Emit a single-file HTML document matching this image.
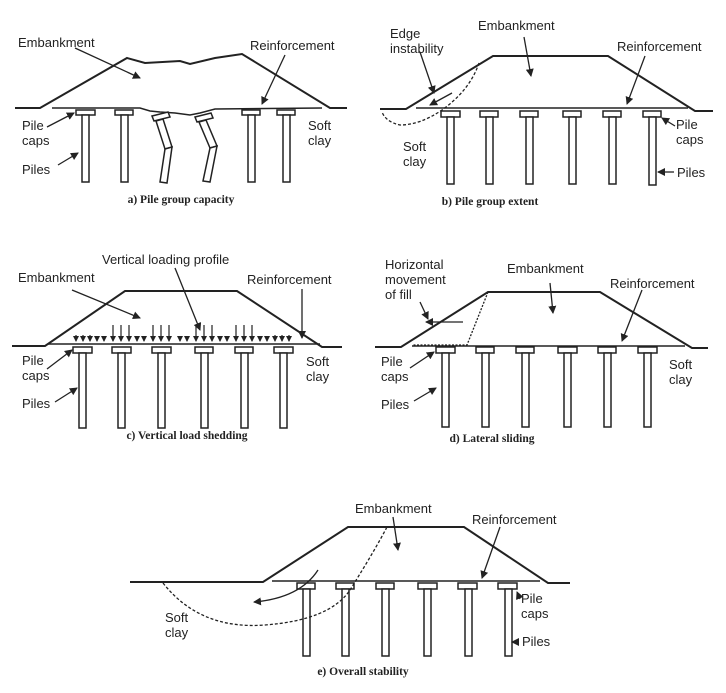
<!DOCTYPE html>
<html><head><meta charset="utf-8"><style>
body{margin:0;background:#fff;}
svg text{font-family:"Liberation Sans",sans-serif;font-size:13px;fill:#222;}
svg text.c{font-family:"Liberation Serif",serif;font-size:11.5px;font-weight:bold;}
</style></head><body>
<svg width="726" height="688" viewBox="0 0 726 688" xmlns="http://www.w3.org/2000/svg">
<defs>
<marker id="ah" markerWidth="8" markerHeight="8" refX="7" refY="4" orient="auto" markerUnits="userSpaceOnUse"><path d="M0,0 L8,4 L0,8 z" fill="#222"/></marker>
<marker id="sa" markerWidth="6" markerHeight="6" refX="5" refY="3" orient="auto" markerUnits="userSpaceOnUse"><path d="M0,0 L6,3 L0,6 z" fill="#222"/></marker>
</defs>
<g stroke="#222" fill="none" stroke-width="2">
<polyline points="15,108 40,108 127,58 145,63 180,61 190,64 215,58 242,54 330,108 347,108"/>
<polyline stroke-width="1.5" points="52,108 140,108 150,111 160,112 175,113 190,115 200,113 215,109 322,108"/>
</g>
<g stroke="#222" fill="#fff" stroke-width="1.5">
<rect x="76" y="110" width="19" height="5"/><rect x="82" y="115" width="7" height="67"/>
<rect x="115" y="110" width="18" height="5"/><rect x="121" y="115" width="7" height="67"/>
<rect x="242" y="110" width="18" height="5"/><rect x="248" y="115" width="7" height="67"/>
<rect x="277" y="110" width="18" height="5"/><rect x="283" y="115" width="7" height="67"/>
<polygon points="152,116 168,112 170,117 154,121"/>
<polygon points="156,121 163,119 172,147 165,149"/>
<polygon points="165,149 172,147 167,183 160,182"/>
<polygon points="195,117 211,113 213,118 197,122"/>
<polygon points="199,122 206,120 217,146 210,148"/>
<polygon points="210,148 217,146 210,182 203,181"/>
</g>
<g stroke="#222" stroke-width="1.3" fill="none">
<line x1="75" y1="48" x2="140" y2="78" marker-end="url(#ah)"/>
<line x1="285" y1="55" x2="262" y2="104" marker-end="url(#ah)"/>
<line x1="47" y1="127" x2="74" y2="113" marker-end="url(#ah)"/>
<line x1="58" y1="165" x2="78" y2="153" marker-end="url(#ah)"/>
</g>
<text x="18" y="47">Embankment</text><text x="250" y="50">Reinforcement</text>
<text x="22" y="130">Pile</text><text x="22" y="145">caps</text><text x="22" y="174">Piles</text>
<text x="308" y="130">Soft</text><text x="308" y="145">clay</text>
<text class="c" x="181" y="203" text-anchor="middle">a) Pile group capacity</text>

<g stroke="#222" fill="none" stroke-width="2">
<polyline points="380,109 406,109 493,56 608,56 695,111 713,111"/>
<line stroke-width="1.5" x1="416" y1="108" x2="688" y2="108"/>
</g>
<g stroke="#222" fill="#fff" stroke-width="1.5">
<rect x="441" y="111" width="19" height="6"/><rect x="447" y="117" width="7" height="67"/>
<rect x="480" y="111" width="18" height="6"/><rect x="486" y="117" width="7" height="67"/>
<rect x="520" y="111" width="18" height="6"/><rect x="526" y="117" width="7" height="67"/>
<rect x="563" y="111" width="18" height="6"/><rect x="569" y="117" width="7" height="67"/>
<rect x="603" y="111" width="18" height="6"/><rect x="609" y="117" width="7" height="67"/>
<rect x="643" y="111" width="18" height="6"/><rect x="649" y="117" width="7" height="68"/>
</g>
<g stroke="#222" stroke-width="1.3" fill="none">
<path d="M479,63 Q470,90 442,110 Q420,125 400,125 Q386,122 382,112" stroke-dasharray="3,2"/>
<line x1="420" y1="52" x2="434" y2="93" marker-end="url(#ah)"/>
<line x1="452" y1="93" x2="430" y2="105" marker-end="url(#ah)"/>
<line x1="524" y1="37" x2="531" y2="76" marker-end="url(#ah)"/>
<line x1="645" y1="56" x2="627" y2="104" marker-end="url(#ah)"/>
<line x1="675" y1="126" x2="662" y2="118" marker-end="url(#ah)"/>
<line x1="674" y1="172" x2="658" y2="172" marker-end="url(#ah)"/>
</g>
<text x="390" y="38">Edge</text><text x="390" y="53">instability</text>
<text x="478" y="30">Embankment</text><text x="617" y="51">Reinforcement</text>
<text x="403" y="151">Soft</text><text x="403" y="166">clay</text>
<text x="676" y="129">Pile</text><text x="676" y="144">caps</text><text x="677" y="177">Piles</text>
<text class="c" x="490" y="205" text-anchor="middle">b) Pile group extent</text>

<g stroke="#222" fill="none" stroke-width="2">
<polyline points="12,346 45,346 125,291 237,291 322,347 342,347"/>
<line stroke-width="1.5" x1="48" y1="344" x2="320" y2="344"/>
</g>
<g stroke="#222" fill="#fff" stroke-width="1.5">
<rect x="73" y="347" width="19" height="6"/><rect x="79" y="353" width="7" height="75"/>
<rect x="112" y="347" width="19" height="6"/><rect x="118" y="353" width="7" height="75"/>
<rect x="152" y="347" width="19" height="6"/><rect x="158" y="353" width="7" height="75"/>
<rect x="195" y="347" width="18" height="6"/><rect x="201" y="353" width="7" height="75"/>
<rect x="235" y="347" width="18" height="6"/><rect x="241" y="353" width="7" height="75"/>
<rect x="274" y="347" width="19" height="6"/><rect x="280" y="353" width="7" height="75"/>
</g>
<g stroke="#222" stroke-width="1.2">
<line x1="76" y1="335" x2="76" y2="341" marker-end="url(#sa)"/><line x1="83" y1="335" x2="83" y2="341" marker-end="url(#sa)"/><line x1="90" y1="335" x2="90" y2="341" marker-end="url(#sa)"/><line x1="97" y1="337" x2="97" y2="341" marker-end="url(#sa)"/><line x1="104" y1="337" x2="104" y2="341" marker-end="url(#sa)"/>
<line x1="113" y1="325" x2="113" y2="341" marker-end="url(#sa)"/><line x1="121" y1="325" x2="121" y2="341" marker-end="url(#sa)"/><line x1="129" y1="325" x2="129" y2="341" marker-end="url(#sa)"/>
<line x1="137" y1="337" x2="137" y2="341" marker-end="url(#sa)"/><line x1="144" y1="337" x2="144" y2="341" marker-end="url(#sa)"/>
<line x1="153" y1="325" x2="153" y2="341" marker-end="url(#sa)"/><line x1="161" y1="325" x2="161" y2="341" marker-end="url(#sa)"/><line x1="169" y1="325" x2="169" y2="341" marker-end="url(#sa)"/>
<line x1="180" y1="337" x2="180" y2="341" marker-end="url(#sa)"/><line x1="187" y1="337" x2="187" y2="341" marker-end="url(#sa)"/>
<line x1="196" y1="325" x2="196" y2="341" marker-end="url(#sa)"/><line x1="204" y1="325" x2="204" y2="341" marker-end="url(#sa)"/><line x1="212" y1="325" x2="212" y2="341" marker-end="url(#sa)"/>
<line x1="220" y1="337" x2="220" y2="341" marker-end="url(#sa)"/><line x1="227" y1="337" x2="227" y2="341" marker-end="url(#sa)"/>
<line x1="236" y1="325" x2="236" y2="341" marker-end="url(#sa)"/><line x1="244" y1="325" x2="244" y2="341" marker-end="url(#sa)"/><line x1="252" y1="325" x2="252" y2="341" marker-end="url(#sa)"/>
<line x1="260" y1="337" x2="260" y2="341" marker-end="url(#sa)"/><line x1="267" y1="337" x2="267" y2="341" marker-end="url(#sa)"/>
<line x1="275" y1="335" x2="275" y2="341" marker-end="url(#sa)"/><line x1="282" y1="335" x2="282" y2="341" marker-end="url(#sa)"/><line x1="289" y1="335" x2="289" y2="341" marker-end="url(#sa)"/>
</g>
<g stroke="#222" stroke-width="1.3" fill="none">
<line x1="72" y1="290" x2="140" y2="318" marker-end="url(#ah)"/>
<line x1="175" y1="268" x2="200" y2="330" marker-end="url(#ah)"/>
<line x1="302" y1="289" x2="302" y2="338" marker-end="url(#ah)"/>
<line x1="47" y1="369" x2="72" y2="350" marker-end="url(#ah)"/>
<line x1="55" y1="402" x2="77" y2="388" marker-end="url(#ah)"/>
</g>
<text x="18" y="282">Embankment</text><text x="102" y="264">Vertical loading profile</text><text x="247" y="284">Reinforcement</text>
<text x="22" y="365">Pile</text><text x="22" y="380">caps</text><text x="22" y="408">Piles</text>
<text x="306" y="366">Soft</text><text x="306" y="381">clay</text>
<text class="c" x="187" y="439" text-anchor="middle">c) Vertical load shedding</text>

<g stroke="#222" fill="none" stroke-width="2">
<polyline points="375,347 401,347 488,292 600,292 692,348 708,348"/>
<line stroke-width="1.5" x1="412" y1="346" x2="685" y2="346"/>
</g>
<g stroke="#222" fill="#fff" stroke-width="1.5">
<rect x="436" y="347" width="19" height="6"/><rect x="442" y="353" width="7" height="74"/>
<rect x="476" y="347" width="18" height="6"/><rect x="482" y="353" width="7" height="74"/>
<rect x="516" y="347" width="18" height="6"/><rect x="522" y="353" width="7" height="74"/>
<rect x="558" y="347" width="19" height="6"/><rect x="564" y="353" width="7" height="74"/>
<rect x="598" y="347" width="18" height="6"/><rect x="604" y="353" width="7" height="74"/>
<rect x="638" y="347" width="19" height="6"/><rect x="644" y="353" width="7" height="74"/>
</g>
<g stroke="#222" stroke-width="1.3" fill="none">
<polyline points="488,292 467,345 412,345" stroke-dasharray="2,1.5"/>
<line x1="463" y1="322" x2="426" y2="322" marker-end="url(#ah)"/>
<line x1="420" y1="302" x2="428" y2="319" marker-end="url(#ah)"/>
<line x1="550" y1="283" x2="553" y2="313" marker-end="url(#ah)"/>
<line x1="642" y1="290" x2="622" y2="341" marker-end="url(#ah)"/>
<line x1="410" y1="368" x2="434" y2="352" marker-end="url(#ah)"/>
<line x1="414" y1="401" x2="436" y2="388" marker-end="url(#ah)"/>
</g>
<text x="385" y="269">Horizontal</text><text x="385" y="284">movement</text><text x="385" y="299">of fill</text>
<text x="507" y="273">Embankment</text><text x="610" y="288">Reinforcement</text>
<text x="381" y="366">Pile</text><text x="381" y="381">caps</text><text x="381" y="409">Piles</text>
<text x="669" y="369">Soft</text><text x="669" y="384">clay</text>
<text class="c" x="492" y="442" text-anchor="middle">d) Lateral sliding</text>

<g stroke="#222" fill="none" stroke-width="2">
<polyline points="130,582 263,582 348,527 464,527 548,583 570,583"/>
<line stroke-width="1.5" x1="272" y1="581" x2="540" y2="581"/>
</g>
<g stroke="#222" fill="#fff" stroke-width="1.5">
<rect x="297" y="583" width="18" height="6"/><rect x="303" y="589" width="7" height="67"/>
<rect x="336" y="583" width="18" height="6"/><rect x="342" y="589" width="7" height="67"/>
<rect x="376" y="583" width="18" height="6"/><rect x="382" y="589" width="7" height="67"/>
<rect x="418" y="583" width="19" height="6"/><rect x="424" y="589" width="7" height="67"/>
<rect x="458" y="583" width="19" height="6"/><rect x="465" y="589" width="7" height="67"/>
<rect x="498" y="583" width="19" height="6"/><rect x="505" y="589" width="7" height="67"/>
</g>
<g stroke="#222" stroke-width="1.3" fill="none">
<path d="M163,583 Q200,630 265,625 Q330,620 350,590 Q375,550 387,527" stroke-dasharray="3,2"/>
<path d="M318,570 Q300,598 254,602" marker-end="url(#ah)"/>
<line x1="393" y1="517" x2="398" y2="550" marker-end="url(#ah)"/>
<line x1="500" y1="527" x2="482" y2="578" marker-end="url(#ah)"/>
<line x1="520" y1="599" x2="517" y2="592" marker-end="url(#ah)"/>
<line x1="518" y1="642" x2="512" y2="642" marker-end="url(#ah)"/>
</g>
<text x="355" y="513">Embankment</text><text x="472" y="524">Reinforcement</text>
<text x="165" y="622">Soft</text><text x="165" y="637">clay</text>
<text x="521" y="603">Pile</text><text x="521" y="618">caps</text><text x="522" y="646">Piles</text>
<text class="c" x="363" y="675" text-anchor="middle">e) Overall stability</text>
</svg>
</body></html>
